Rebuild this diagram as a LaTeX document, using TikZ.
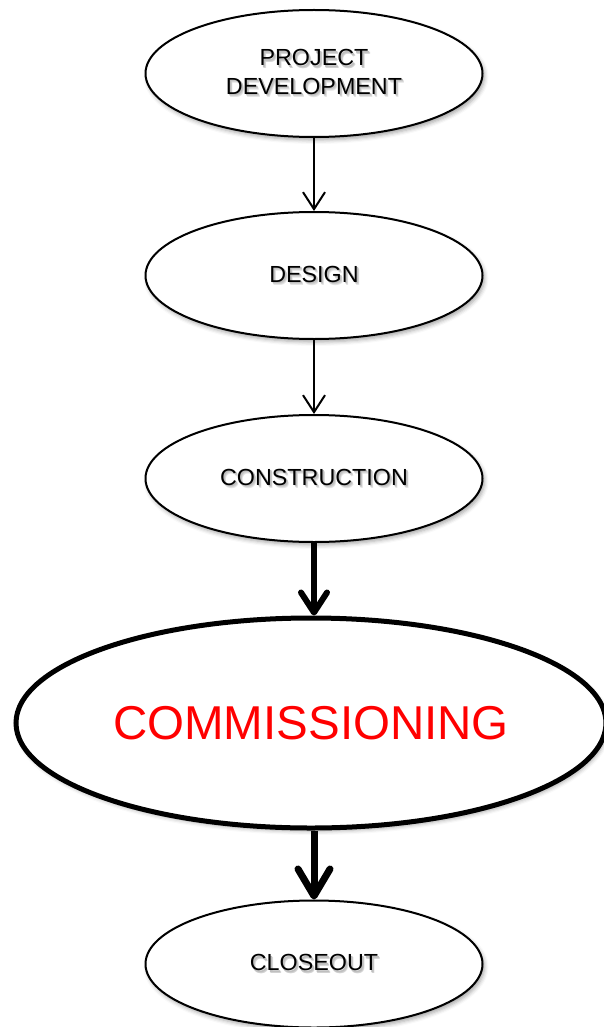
\documentclass[tikz,border=0pt]{standalone}
\usepackage{fontspec}
\setmainfont{Liberation Sans}
\usetikzlibrary{shapes.geometric,arrows.meta,shadows.blur}

% text with a soft grey drop shadow
\newcommand{\shtxt}[1]{\leavevmode
  \rlap{\kern2.5pt\raisebox{-3pt}{\color{black!10}#1}}%
  \rlap{\kern2pt\raisebox{-2.5pt}{\color{black!18}#1}}%
  \rlap{\kern1.5pt\raisebox{-1.8pt}{\color{black!25}#1}}%
  #1}

\begin{document}
\begin{tikzpicture}[x=1pt,y=-1pt,
  phase/.style={ellipse,draw,line width=2pt,fill=white,inner sep=0pt,
    minimum width=337pt,minimum height=127pt,align=center,
    font=\fontsize{23.3}{28.3}\selectfont,
    blur shadow={shadow xshift=2pt,shadow yshift=-3pt,shadow blur radius=4pt,shadow opacity=35}},
  keyphase/.style={phase,line width=5pt,minimum width=590pt,minimum height=210pt,
    font=\fontsize{47.5}{55}\selectfont,text=red},
  thinarrow/.style={line width=2pt,-{Straight Barb[length=17pt,width=22pt,line width=2pt]}},
  thickarrow/.style={line width=6pt,-{Straight Barb[round,length=20pt,width=26pt,line width=6pt]}},
  lastarrow/.style={line width=7pt,-{Straight Barb[round,length=27pt,width=32pt,line width=7pt]}}
]
\useasboundingbox (0,0) rectangle (604,1027);

% stages of the project
\node[phase] (dev) at (314,73.5) {\shtxt{PROJECT}\\\shtxt{DEVELOPMENT}};
\node[phase] (design) at (314,275.5) {\shtxt{DESIGN}};
\node[phase] (constr) at (314,478.5) {\shtxt{CONSTRUCTION}};
\node[keyphase] (comm) at (311,723) {COMMISSIONING};
\node[phase] (close) at (314,964) {\shtxt{CLOSEOUT}};

% flow between stages
\draw[thinarrow] (dev) -- (design);
\draw[thinarrow] (design) -- (constr);
\draw[thickarrow] (constr.south) -- (constr.south |- comm.north);
\draw[lastarrow] (comm.south -| close.north) -- (close.north);
\end{tikzpicture}
\end{document}
